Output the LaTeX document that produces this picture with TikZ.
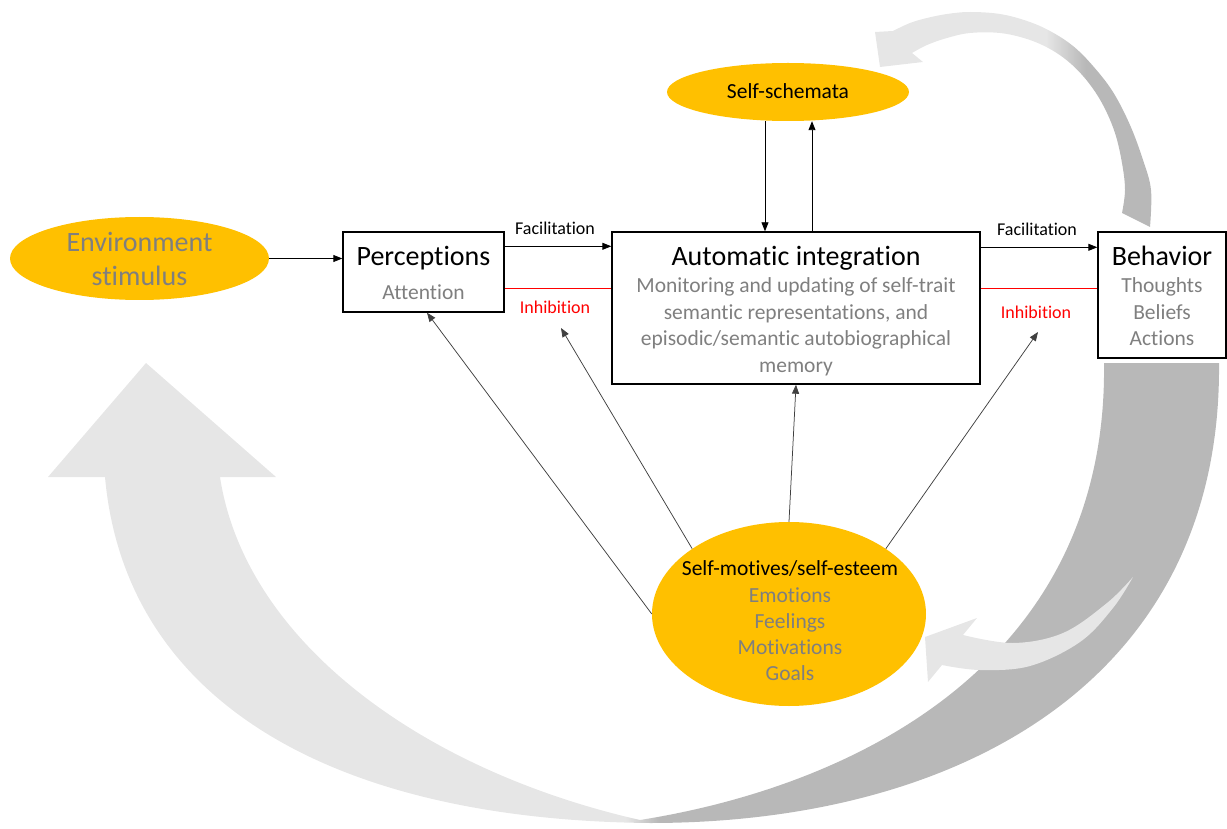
\documentclass[tikz,border=0pt]{standalone}
\usepackage{fontspec}
\setmainfont{Carlito}[Ligatures=NoCommon]
\usetikzlibrary{shapes.geometric,arrows.meta,calc}
\definecolor{gold}{HTML}{FFC000}
\definecolor{tgray}{HTML}{7F7F7F}
\definecolor{lgr}{HTML}{E6E6E6}
\definecolor{dgr}{HTML}{B8B8B8}
\definecolor{inred}{HTML}{FF0000}
\pgfdeclarehorizontalshading{bigshade}{100bp}{color(0bp)=(lgr); color(49.6bp)=(lgr); color(51bp)=(dgr); color(100bp)=(dgr)}
\pgfdeclarehorizontalshading{topshade}{100bp}{color(0bp)=(lgr); color(55.8bp)=(lgr); color(63bp)=(dgr); color(100bp)=(dgr)}
\begin{document}
\begin{tikzpicture}[x=1pt,y=-1pt,
  box/.style={draw=black, line width=1.4pt, rectangle, inner sep=0pt},
  oval/.style={ellipse, fill=gold, draw=none, inner sep=0pt},
  conn/.style={line width=0.9pt, -{Triangle[length=9pt,width=7pt]}},
  diag/.style={line width=0.75pt, draw=black!75, -{Triangle[length=9pt,width=7pt]}},
  inhline/.style={draw=inred, line width=0.8pt},
  title/.style={font=\fontsize{28}{34}\selectfont, anchor=base, inner sep=0pt},
  sub/.style={font=\fontsize{21.5}{26.5}\selectfont, text=tgray, anchor=base, inner sep=0pt},
  lab/.style={font=\fontsize{18}{21}\selectfont, anchor=base, inner sep=0pt},
  arrowfill/.style={draw=none}
]
\useasboundingbox (0,0) rectangle (1227,829);

% big curved feedback arrow
\shade[arrowfill, shading=bigshade] (105,477) .. controls (125,700) and (330,820) .. (650,823)
  .. controls (960,823) and (1222,680) .. (1219,363)
  -- (1104,363) .. controls (1108,660) and (860,785) .. (640,820)
  .. controls (420,770) and (245,640) .. (220,477)
  -- (276,477) -- (146,363) -- (48,477) -- cycle;

% top curved arrow
\shade[arrowfill, shading=topshade] (875,32) -- plot[smooth, tension=0.6] coordinates {(893,31) (910,23) (927,18) (947,14) (970,12) (1000,14) (1027,21) (1050,31) (1073,46) (1093,66) (1113,92) (1130,125) (1143,160) (1151,190) (1150,227)}
  -- plot[smooth, tension=0.6] coordinates {(1122,213) (1125,190) (1122,163) (1115,133) (1103,105) (1088,82) (1070,63) (1050,49) (1027,39) (1000,33) (970,33) (947,38) (927,45) (912,53)}
  -- (923,62) -- (880,67) -- cycle;

% small arrow towards self-motives
\fill[lgr] (1133,577) -- plot[smooth, tension=0.6] coordinates {(1133,577) (1107,603) (1063,633) (1013,643) (963,635)}
  -- (977,618) -- (925,637) -- (928,682) -- (942,665)
  -- plot[smooth, tension=0.6] coordinates {(942,665) (980,670) (1030,666) (1080,642) (1113,608) (1133,577)} -- cycle;

% nodes
\node[oval, minimum width=259pt, minimum height=83pt] (env) at (139.5,258.5) {};
\node[box, minimum width=161pt, minimum height=80pt] (perc) at (423.5,272) {};
\node[box, minimum width=368pt, minimum height=152pt] (auto) at (796,308) {};
\node[box, minimum width=128pt, minimum height=126pt] (beh) at (1162,295) {};
\node[oval, minimum width=242pt, minimum height=58pt] (ss) at (788,92) {};
\node[oval, minimum width=274pt, minimum height=184pt] (mot) at (789,614) {};

% texts
\node[title, text=tgray] (envt) at (139.5,252) {\begin{tabular}[t]{@{}c@{}}Environment\\stimulus\end{tabular}};
\node[title] (perct) at (423.5,266) {Perceptions};
\node[sub] (perca) at (423.5,299) {Attention};
\node[title] (autot) at (796,266) {Automatic integration};
\node[sub] (autos) at (796,293) {\begin{tabular}[t]{@{}c@{}}Monitoring and updating of self-trait\\semantic representations, and\\episodic/semantic autobiographical\\memory\end{tabular}};
\node[title] (beht) at (1162,266) {Behavior};
\node[sub] (behs) at (1162,293) {\begin{tabular}[t]{@{}c@{}}Thoughts\\Beliefs\\Actions\end{tabular}};
\node[sub, text=black] (sst) at (788,99) {Self-schemata};
\node[sub, text=black] (mott) at (790,575) {Self-motives/self-esteem};
\node[sub, font=\fontsize{21.5}{26}\selectfont] (motl) at (790,602) {\begin{tabular}[t]{@{}c@{}}Emotions\\Feelings\\Motivations\\Goals\end{tabular}};
\node[lab] (facl) at (555,235) {Facilitation};
\node[lab, text=inred] (inhl) at (555,313) {Inhibition};
\node[lab] (facr) at (1037,236) {Facilitation};
\node[lab, text=inred] (inhr) at (1036,319) {Inhibition};

% connectors
\draw[conn] (env.east) -- (env.east -| perc.west);
\draw[conn] ([yshift=-15pt]perc.north east) -- ([yshift=-15pt]perc.north east -| auto.west);
\draw[inhline] ([yshift=-57pt]perc.north east) -- ([yshift=-57pt]perc.north east -| auto.west);
\draw[conn] ([yshift=-16pt]auto.north east) -- ([yshift=-16pt]auto.north east -| beh.west);
\draw[inhline] ([yshift=-57pt]auto.north east) -- ([yshift=-57pt]auto.north east -| beh.west);
\draw[conn] ([xshift=-23pt]ss.south) -- ([xshift=-23pt]ss.south |- auto.north);
\draw[conn] ([xshift=24pt]ss.south |- auto.north) -- ([xshift=24pt]ss.south);

\coordinate (inhlt) at (561,328);
\coordinate (inhrt) at (1038,332);
\draw[diag] (mot.west) -- ([xshift=3.5pt]perc.south);
\draw[diag] (mot.146) -- (inhlt);
\draw[diag] (mot.north) -- (auto.south);
\draw[diag] (mot.34) -- (inhrt);
\end{tikzpicture}
\end{document}
